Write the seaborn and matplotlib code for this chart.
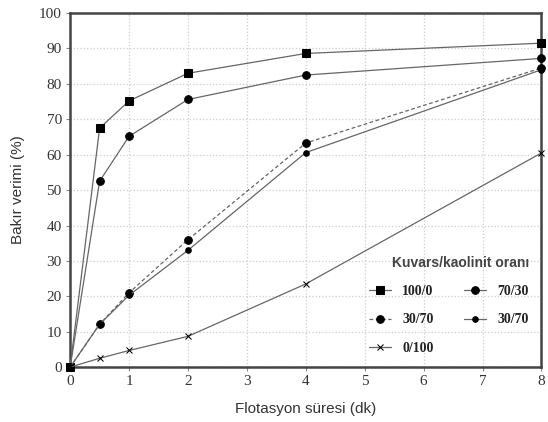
import matplotlib
matplotlib.use("Agg")
import matplotlib.pyplot as plt
import seaborn as sns
import pandas as pd

time_min = [0, 0.5, 1, 2, 4, 8]
labels = ["100/0", "70/30", "30/70", "30/70", "0/100"]
s_100_0 = [0, 67.5, 75.2, 83.0, 88.6, 91.5]
s_70_30 = [0, 52.5, 65.2, 75.6, 82.5, 87.2]
s_30_70a = [0, 12.1, 21.0, 36.0, 63.3, 84.5]
s_30_70b = [0, 12.1, 20.3, 33.0, 60.6, 84.0]
s_0_100 = [0, 2.5, 4.7, 8.7, 23.5, 60.5]
series = [s_100_0, s_70_30, s_30_70a, s_30_70b, s_0_100]
x_ticks = [0, 1, 2, 3, 4, 5, 6, 7, 8]
y_ticks = [0, 10, 20, 30, 40, 50, 60, 70, 80, 90, 100]

sns.set_style("white")
plt.rcParams['font.family'] = ['Liberation Serif', 'DejaVu Serif']

fig = plt.figure(figsize=(5.48, 4.22), dpi=100)
ax = fig.add_axes([0.128, 0.130, 0.860, 0.839])

styles = [
    dict(marker='s', markersize=6, linestyle='-'),
    dict(marker='o', markersize=5.5, linestyle='-'),
    dict(marker='o', markersize=5.5, linestyle=(0, (3, 2))),
    dict(marker='o', markersize=4, linestyle='-'),
    dict(marker='x', markersize=4, linestyle='-'),
]
for lab, vals, st in zip(labels, series, styles):
    df = pd.DataFrame({"t": time_min, "v": vals})
    sns.lineplot(data=df, x="t", y="v", ax=ax, label=lab, color='#666666',
                 linewidth=0.9, marker=st['marker'], markersize=st['markersize'],
                 markerfacecolor='black', markeredgecolor='black',
                 linestyle=st['linestyle'], clip_on=False, zorder=3)

ax.set_xlim(0, 8)
ax.set_ylim(0, 100)
ax.set_xticks(x_ticks)
ax.set_yticks(y_ticks)
ax.grid(True, color='#cccccc', linestyle=':', linewidth=0.9)
for s in ax.spines.values():
    s.set_color('#444444')
    s.set_linewidth(1.8)
ax.tick_params(axis='both', labelsize=11, length=3, direction='out', color='#888888',
               bottom=True, left=True, pad=3, labelcolor='#333333')
ax.set_xlabel("Flotasyon süresi (dk)", fontsize=11, family=['Liberation Sans', 'DejaVu Sans'],
              color='#333333', labelpad=10)
ax.set_ylabel("Bakır verimi (%)", fontsize=11, family=['Liberation Sans', 'DejaVu Sans'],
              color='#333333', labelpad=10)

h, l = ax.get_legend_handles_labels()
order = [0, 2, 4, 1, 3]
leg = ax.legend([h[i] for i in order], [l[i] for i in order],
                loc='lower right', bbox_to_anchor=(1.0, 0.0), ncol=2, frameon=False,
                title="Kuvars/kaolinit oranı", handlelength=1.6, columnspacing=2.2,
                labelspacing=1.1, prop={'family': 'Liberation Serif', 'weight': 'bold', 'size': 10})
leg.get_title().set_fontfamily(['Liberation Sans', 'DejaVu Sans'])
leg.get_title().set_fontweight('bold')
leg.get_title().set_color('#444444')
leg.get_title().set_fontsize(10)
leg._legend_box.align = "right"
for t in leg.get_texts():
    t.set_color('#222222')

fig.savefig("out.png", dpi=100)
